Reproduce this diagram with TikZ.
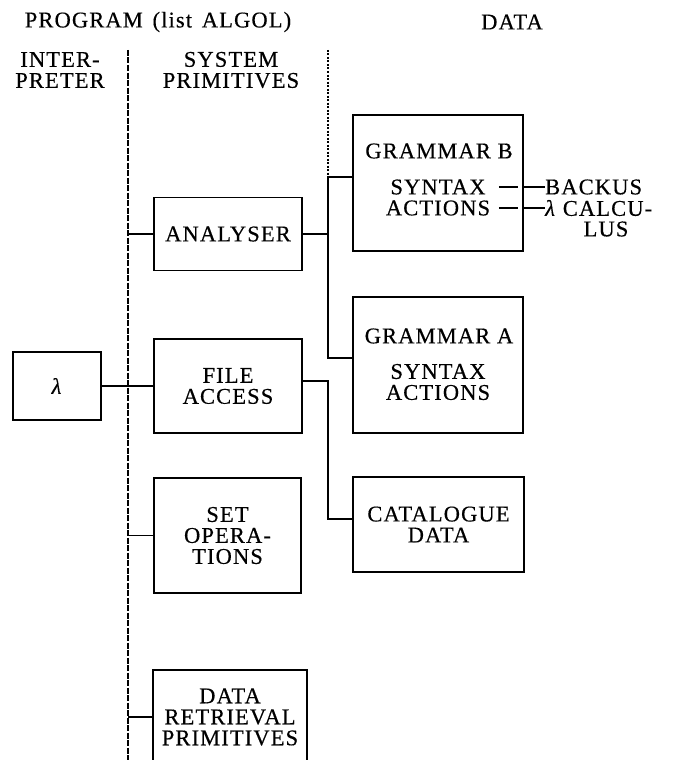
\documentclass[tikz,border=0pt]{standalone}
\usepackage{fontspec}
\setmainfont{Liberation Serif}[LetterSpace=5, FakeBold=0.4]
\usetikzlibrary{calc}
\begin{document}
\begin{tikzpicture}[x=1pt,y=-1pt,
  every node/.style={font=\fontsize{22.5}{21}\selectfont, inner sep=0pt, align=center},
  box/.style={draw, line width=1.8pt},
  conn/.style={line width=1.3pt},
  dashline/.style={line width=1.1pt, dash pattern=on 6pt off 1.5pt},
  dotline/.style={line width=1.1pt, dash pattern=on 2pt off 1.5pt}]
\useasboundingbox (0,0) rectangle (672,760);
\clip (0,0) rectangle (672,760);

% headers
\node (prog) at (158,22) {PROGRAM\hspace{3pt} (list\hspace{3pt} ALGOL)};
\node (data) at (512,22) {DATA};
\node (interp) at (60,70) {INTER-\\PRETER};
\node (sysp) at (231,70) {SYSTEM\\PRIMITIVES};

% program boxes
\node[box, minimum width=88pt, minimum height=68pt] (lam) at (57,386) {\textit{λ}};
\node[box, minimum width=148pt, minimum height=73pt] (ana) at (228,234) {ANALYSER};
\node[box, minimum width=148pt, minimum height=94pt] (fa) at (228,386) {FILE\\ACCESS};
\node[box, minimum width=147pt, minimum height=115pt] (setop) at (227.5,535.5) {SET\\OPERA-\\TIONS};
\node[box, minimum width=154pt, minimum height=94pt] (dr) at (230,717) {DATA\\RETRIEVAL\\PRIMITIVES};

% data boxes
\node[box, minimum width=170pt, minimum height=136pt] (gb) at (438,183) {};
\node (gbt) at (439,151) {GRAMMAR B};
\node (gbs) at (438,187) {SYNTAX};
\node (gba) at (438,208) {ACTIONS};
\node[box, minimum width=170pt, minimum height=136pt] (ga) at (438,365) {};
\node (gat) at (439,336) {GRAMMAR A};
\node (gas) at (438,382) {SYNTAX\\ACTIONS};
\node[box, minimum width=171pt, minimum height=95pt] (cat) at (438.5,524.5) {CATALOGUE\\DATA};

\node[anchor=west] (backus) at (545,187) {BACKUS};
\node[anchor=west] (calc) at (545,208) {\textit{λ} CALCU-};
\node (lus) at (606,229) {LUS};

% interpreter / primitives divider
\coordinate (v1top) at (128,50);
\coordinate (v1bot) at (128,760);
\draw[dashline] (v1top) -- (v1bot);
\draw[conn] (lam.east) -- (lam.east -| v1top);
\foreach \n in {ana,fa,setop,dr} \draw[conn] (\n.west -| v1top) -- (\n.west);

% program / data divider and trees
\coordinate (v2top) at (328,50);
\coordinate (gbW) at ([yshift=6pt]gb.west);
\coordinate (gaW) at ([yshift=7pt]ga.west);
\draw[dotline] (v2top) -- (gbW -| v2top);
\draw[conn] (gbW) -- (gbW -| v2top) -- (gaW -| v2top) -- (gaW);
\draw[conn] (ana.east) -- (ana.east -| v2top);
\coordinate (faE) at ([yshift=5pt]fa.east);
\coordinate (catW) at ([yshift=5.5pt]cat.west);
\draw[conn] (faE) -- (faE -| v2top) -- (catW -| v2top) -- (catW);

% syntax / actions links
\coordinate (gbE) at (gb.east);
\draw[conn] ($(gbE |- gbs)+(-25,0)$) -- ($(gbE |- gbs)+(-6,0)$);
\draw[conn] (gbE |- gbs) -- (backus.west);
\draw[conn] ($(gbE |- gba)+(-25,0)$) -- ($(gbE |- gba)+(-6,0)$);
\draw[conn] (gbE |- gba) -- (calc.west);
\end{tikzpicture}
\end{document}
